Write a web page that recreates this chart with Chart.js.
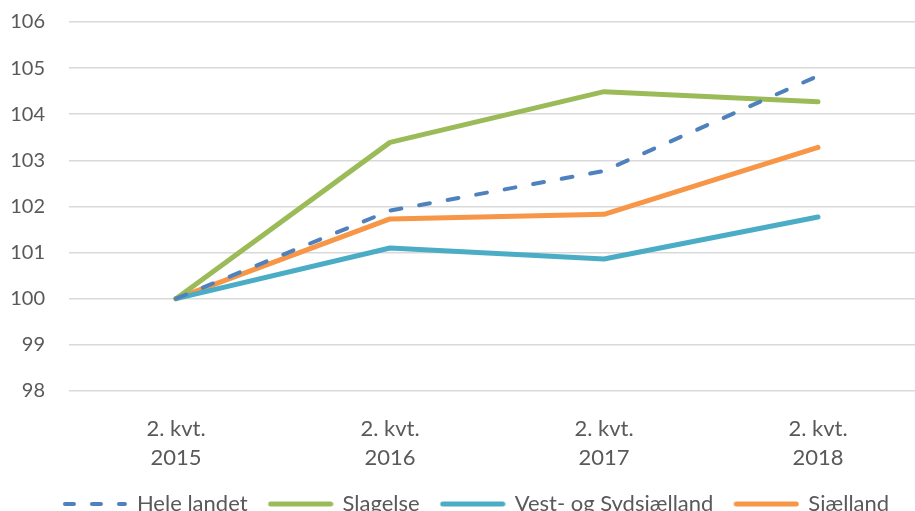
<!DOCTYPE html>
<html lang="da">
<head>
  <meta charset="UTF-8" />
  <title>Indeks 2. kvt. 2015 = 100</title>
  <style>
    html, body {
      margin: 0;
      padding: 0;
      background: #fff;
      overflow: hidden;
    }
    .wrap {
      position: relative;
      top: -14px;
      width: 952px;
      height: 539px;
    }
  </style>
</head>
<body>
  <div class="wrap">
    <canvas id="chart"></canvas>
  </div>

  <script src="https://cdn.jsdelivr.net/npm/chart.js"></script>
  <script>
    const labels = [['2. kvt.', '2015'], ['2. kvt.', '2016'], ['2. kvt.', '2017'], ['2. kvt.', '2018']];

    const heleLandet = [100, 101.91, 102.77, 104.83];
    const slagelse = [100, 103.39, 104.49, 104.27];
    const vestSyd = [100, 101.1, 100.86, 101.77];
    const sjaelland = [100, 101.73, 101.83, 103.28];

    const yTicks = [98, 99, 100, 101, 102, 103, 104, 105, 106];

    const family = 'Lato, "Open Sans", sans-serif';
    const grey = '#595959';

    // little line sample for the legend (the built-in one ignores the dash)
    function legendSample(color, width, dash) {
      const c = document.createElement('canvas');
      c.width = 66;
      c.height = 8;
      const g = c.getContext('2d');
      g.strokeStyle = color;
      g.lineWidth = width;
      g.lineCap = 'round';
      g.setLineDash(dash || []);
      g.beginPath();
      g.moveTo(3, 4);
      g.lineTo(63, 4);
      g.stroke();
      return c;
    }

    function series(label, data, color, dash) {
      const w = dash ? 4 : 5;
      return {
        label: label,
        data: data,
        borderColor: color,
        backgroundColor: color,
        borderWidth: w,
        borderDash: dash || [],
        borderCapStyle: 'round',
        borderJoinStyle: 'round',
        pointStyle: legendSample(color, w, dash ? [9, 18] : null),
        pointRadius: 0,
        pointHoverRadius: 0,
        tension: 0,
        fill: false
      };
    }

    // the legend sits a bit right of the plot centre in the original
    const legendShift = {
      id: 'legendShift',
      afterLayout(chart) {
        chart.legend.left += 14;
        chart.legend.right += 14;
      }
    };

    new Chart(document.getElementById('chart'), {
      type: 'line',
      data: {
        labels: labels,
        datasets: [
          series('Hele landet', heleLandet, '#4f81bd', [11, 18]),
          series('Slagelse', slagelse, '#9bbb59'),
          series('Vest- og Sydsjælland', vestSyd, '#4bacc6'),
          series('Sjælland', sjaelland, '#f79646')
        ]
      },
      options: {
        responsive: true,
        maintainAspectRatio: false,
        animation: false,
        layout: { padding: { top: 0, right: 27, left: 0, bottom: 0 } },
        plugins: {
          tooltip: { enabled: false },
          legend: {
            position: 'bottom',
            labels: {
              usePointStyle: true,
              pointStyleWidth: 62,
              color: grey,
              font: { family: family, size: 22 },
              padding: 22
            }
          }
        },
        scales: {
          x: {
            offset: true,
            grid: { display: false },
            border: { display: false },
            afterFit: s => { s.height -= 16; },
            ticks: {
              color: grey,
              font: { family: family, size: 22, lineHeight: 1.32 },
              padding: 15,
              maxRotation: 0
            }
          },
          y: {
            min: 98,
            max: 106,
            afterBuildTicks: s => { s.ticks = yTicks.map(v => ({ value: v })); },
            afterFit: s => { s.width = 69; },
            grid: { color: '#d9d9d9', lineWidth: 1.5, drawTicks: false },
            border: { display: false },
            ticks: { color: grey, font: { family: family, size: 20 }, padding: 24 }
          }
        }
      },
      plugins: [legendShift]
    });
  </script>
</body>
</html>
